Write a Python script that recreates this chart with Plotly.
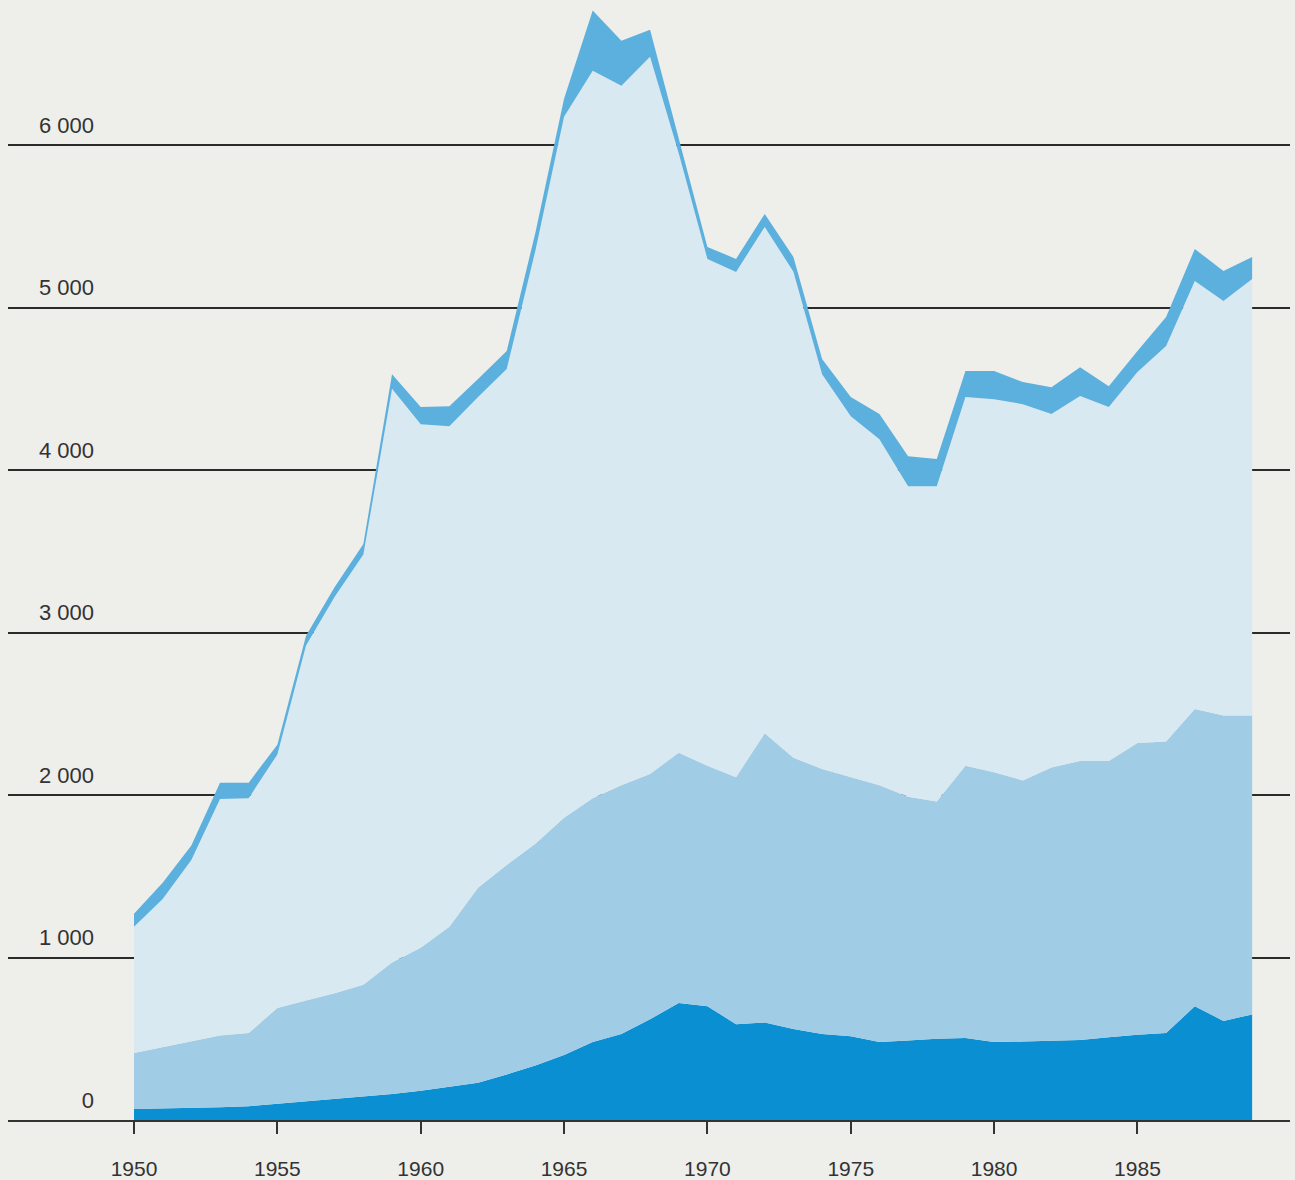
import plotly.graph_objects as go

years = list(range(1950, 1990))

# stacked layer values (bottom to top)
layer_dark = [68, 70, 72, 78, 85, 100, 115, 130, 145, 160,
              180, 205, 230, 280, 335, 400, 480, 530, 620, 720,
              700, 590, 600, 560, 530, 515, 480, 490, 500, 505,
              480, 483, 487, 493, 510, 525, 535, 700, 610, 650]
layer_medium = [345, 380, 413, 442, 450, 590, 620, 650, 687, 810,
                880, 985, 1200, 1290, 1365, 1460, 1500, 1530, 1510, 1540,
                1480, 1520, 1780, 1670, 1630, 1595, 1580, 1500, 1460, 1675,
                1660, 1607, 1683, 1717, 1700, 1795, 1795, 1830, 1880, 1840]
layer_light = [776, 910, 1115, 1455, 1445, 1560, 2185, 2440, 2648, 3530,
               3222, 3080, 3020, 3051, 3650, 4314, 4477, 4305, 4413, 3690,
               3119, 3109, 3116, 2990, 2430, 2221, 2130, 1910, 1940, 2269,
               2296, 2315, 2174, 2245, 2177, 2283, 2433, 2633, 2550, 2686]
layer_top = [81, 100, 90, 101, 96, 60, 60, 60, 65, 90,
             105, 123, 110, 111, 110, 111, 370, 277, 167, 100,
             74, 80, 80, 91, 93, 118, 154, 185, 167, 160,
             173, 136, 166, 178, 129, 129, 178, 197, 185, 135]

x_ticks = [1950, 1955, 1960, 1965, 1970, 1975, 1980, 1985]
y_ticks = [0, 1000, 2000, 3000, 4000, 5000, 6000]
y_tick_text = ["0", "1 000", "2 000", "3 000", "4 000", "5 000", "6 000"]

colors = ["#0a8fd2", "#a0cce6", "#d8e9f2", "#5cb0de"]
layers = [layer_dark, layer_medium, layer_light, layer_top]

fig = go.Figure()
for vals, col in zip(layers, colors):
    fig.add_trace(go.Scatter(
        x=years, y=vals, stackgroup="one", mode="lines",
        line=dict(width=0, color=col), fillcolor=col,
        hoverinfo="skip", showlegend=False,
    ))

W, H = 1295, 1180
ml, mr, mt, mb = 8, 5, 0, 60
plot_w = W - ml - mr
px_per_year = 28.67
x0 = 1950 - (134 - ml) / px_per_year
x1 = x0 + plot_w / px_per_year
plot_h = H - mt - mb
y_top = plot_h / 162.5 * 1000

font_family = "Liberation Sans, Arial, Helvetica, sans-serif"
bg = "#eeeeeb"

fig.update_layout(
    width=W, height=H,
    margin=dict(l=ml, r=mr, t=mt, b=mb, autoexpand=False),
    paper_bgcolor=bg, plot_bgcolor=bg,
    font=dict(family=font_family, size=22, color="#333333"),
    xaxis=dict(
        range=[x0, x1], tickvals=x_ticks, ticktext=[str(t) for t in x_ticks],
        ticks="outside", ticklen=12, tickwidth=1.5, tickcolor="#333333",
        showline=True, linecolor="#333333", linewidth=2,
        showgrid=False, zeroline=False, automargin=False,
        ticklabelstandoff=17,
        tickfont=dict(size=21, color="#333333"),
    ),
    yaxis=dict(
        range=[0, y_top], tickvals=y_ticks, ticktext=y_tick_text,
        anchor="free", position=(94 - ml) / plot_w,
        ticks="", showline=False, zeroline=False, automargin=False,
        showgrid=True, gridcolor="#2a2a2a", gridwidth=1.5,
        ticklabelshift=-20, ticklabelstandoff=0,
        tickfont=dict(size=22, color="#333333"),
    ),
)

fig.write_html(
    "out.html",
    config={"displayModeBar": False},
    post_script="document.body.style.margin='0';document.body.style.background='%s';" % bg,
)
